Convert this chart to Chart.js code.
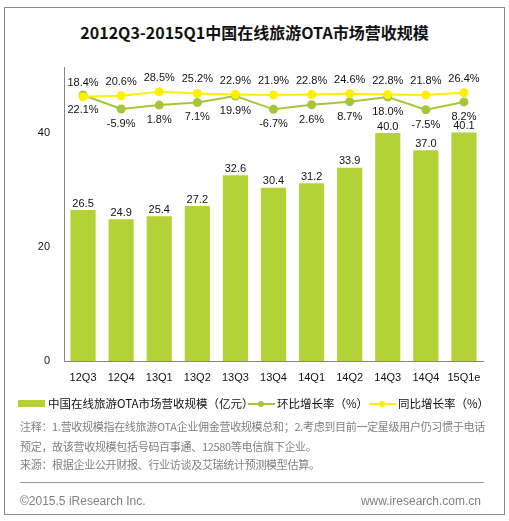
<!DOCTYPE html>
<html>
<head>
<meta charset="utf-8">
<script src="https://cdn.jsdelivr.net/npm/chart.js@4"></script>
<style>
  html,body{margin:0;padding:0;background:#fff;}
  body{width:509px;height:521px;position:relative;overflow:hidden;font-family:"Liberation Sans","Noto Sans CJK SC",sans-serif;}
  #frame{position:absolute;left:4px;top:7px;width:499px;height:506px;border:1px solid #8a8a8a;}
  #title{position:absolute;left:0;top:21px;width:509px;text-align:center;font:bold 16px "Noto Sans CJK SC",sans-serif;line-height:22px;color:#111;}
  #c{position:absolute;left:0;top:0;}
  .leg{position:absolute;top:395px;height:16px;line-height:16px;font:11.5px "Noto Sans CJK SC",sans-serif;color:#111;white-space:nowrap;}
  .notes{position:absolute;left:20px;font:11px "Noto Sans CJK SC",sans-serif;color:#808080;white-space:nowrap;letter-spacing:-0.3px;}
  #sep{position:absolute;left:20px;top:482px;width:464px;height:0;border-top:1px solid #9a9a9a;}
  .foot{position:absolute;top:493px;font:12px "Liberation Sans",sans-serif;color:#808080;line-height:16px;}
</style>
</head>
<body>
<div id="frame"></div>
<div id="title">2012Q3-2015Q1中国在线旅游OTA市场营收规模</div>
<canvas id="c" width="509" height="521"></canvas>

<div class="leg" style="left:18px;"><span style="display:inline-block;width:27px;height:7px;background:#b3d236;vertical-align:middle;margin-right:3px;position:relative;top:-1px;"></span>中国在线旅游OTA市场营收规模（亿元）</div>
<div class="leg" style="left:248px;"><span style="display:inline-block;width:27px;height:2px;background:#a5c63b;vertical-align:middle;margin-right:2px;position:relative;top:-1px;"><span style="position:absolute;left:10px;top:-2px;width:6px;height:6px;border-radius:3px;background:#a5c63b;"></span></span>环比增长率（%）</div>
<div class="leg" style="left:369px;"><span style="display:inline-block;width:27px;height:2px;background:#fff000;vertical-align:middle;margin-right:2px;position:relative;top:-1px;"><span style="position:absolute;left:10px;top:-2px;width:6px;height:6px;border-radius:3px;background:#fff000;"></span></span>同比增长率（%）</div>

<div class="notes" style="top:418px;">注释：1.营收规模指在线旅游OTA企业佣金营收规模总和；2.考虑到目前一定星级用户仍习惯于电话</div>
<div class="notes" style="top:438px;">预定，故该营收规模包括号码百事通、12580等电信旗下企业。</div>
<div class="notes" style="top:456px;">来源：根据企业公开财报、行业访谈及艾瑞统计预测模型估算。</div>
<div id="sep"></div>
<div class="foot" style="left:20px;">©2015.5 iResearch Inc.</div>
<div class="foot" style="right:28px;">www.iresearch.com.cn</div>

<script>
const categories = ["12Q3","12Q4","13Q1","13Q2","13Q3","13Q4","14Q1","14Q2","14Q3","14Q4","15Q1e"];
const revenue = [26.5,24.9,25.4,27.2,32.6,30.4,31.2,33.9,40.0,37.0,40.1];
const qoqGrowth = [22.1,-5.9,1.8,7.1,19.9,-6.7,2.6,8.7,18.0,-7.5,8.2];
const yoyGrowth = [18.4,20.6,28.5,25.2,22.9,21.9,22.8,24.6,22.8,21.8,26.4];
const yTicks = [0,20,40];

const BAR = '#b3d236', GREEN = '#a5c63b', YELLOW = '#fff000';
const labelFont = '11px "Liberation Sans", sans-serif';

const valueLabels = {
  id: 'valueLabels',
  afterDatasetsDraw(chart) {
    const ctx = chart.ctx;
    ctx.save();
    ctx.font = labelFont;
    ctx.fillStyle = '#111';
    ctx.textAlign = 'center';
    chart.data.datasets.forEach((ds, i) => {
      const meta = chart.getDatasetMeta(i);
      meta.data.forEach((el, j) => {
        const v = ds.data[j];
        if (ds.kind === 'bar') {
          ctx.textBaseline = 'bottom';
          ctx.fillText(v.toFixed(1), el.x, el.y - 1);
        } else if (ds.kind === 'qoq') {
          ctx.textBaseline = 'middle';
          ctx.fillText(v.toFixed(1) + '%', el.x, el.y + 15);
        } else {
          ctx.textBaseline = 'middle';
          ctx.fillText(v.toFixed(1) + '%', el.x, el.y - 14);
        }
      });
    });
    ctx.restore();
  }
};

new Chart(document.getElementById('c'), {
  data: {
    labels: categories,
    datasets: [
      {type:'line', kind:'yoy', label:'同比增长率（%）', data: yoyGrowth, yAxisID:'y1', order:0,
       borderColor: YELLOW, backgroundColor: YELLOW, borderWidth:2, pointRadius:4.5, pointBorderWidth:0, tension:0},
      {type:'line', kind:'qoq', label:'环比增长率（%）', data: qoqGrowth, yAxisID:'y1', order:1,
       borderColor: GREEN, backgroundColor: GREEN, borderWidth:2, pointRadius:4.5, pointBorderWidth:0, tension:0},
      {type:'bar', kind:'bar', label:'中国在线旅游OTA市场营收规模（亿元）', data: revenue, yAxisID:'y', order:2,
       backgroundColor: BAR, categoryPercentage:1, barPercentage:0.66}
    ]
  },
  options: {
    responsive:false, animation:false,
    layout:{padding:{left:0, right:26, top:67, bottom:130}},
    plugins:{legend:{display:false}, tooltip:{enabled:false}, title:{display:false}},
    scales:{
      x:{
        grid:{display:false, drawTicks:false},
        border:{display:true, color:'#868686', width:1},
        ticks:{color:'#111', font:{family:'"Liberation Sans", sans-serif', size:11}, padding:10, maxRotation:0, autoSkip:false},
        afterFit(s){ s.height = 30; }
      },
      y:{
        min:0, max:51.6,
        grid:{display:false, drawTicks:false},
        border:{display:true, color:'#868686', width:1},
        ticks:{color:'#111', font:{family:'"Liberation Sans", sans-serif', size:11}, padding:14},
        afterBuildTicks(s){ s.ticks = yTicks.map(v => ({value:v})); },
        afterFit(s){ s.width = 64; }
      },
      y1:{
        display:false, min:-510, max:78, position:'right'
      }
    }
  },
  plugins:[valueLabels]
});
</script>
</body>
</html>
